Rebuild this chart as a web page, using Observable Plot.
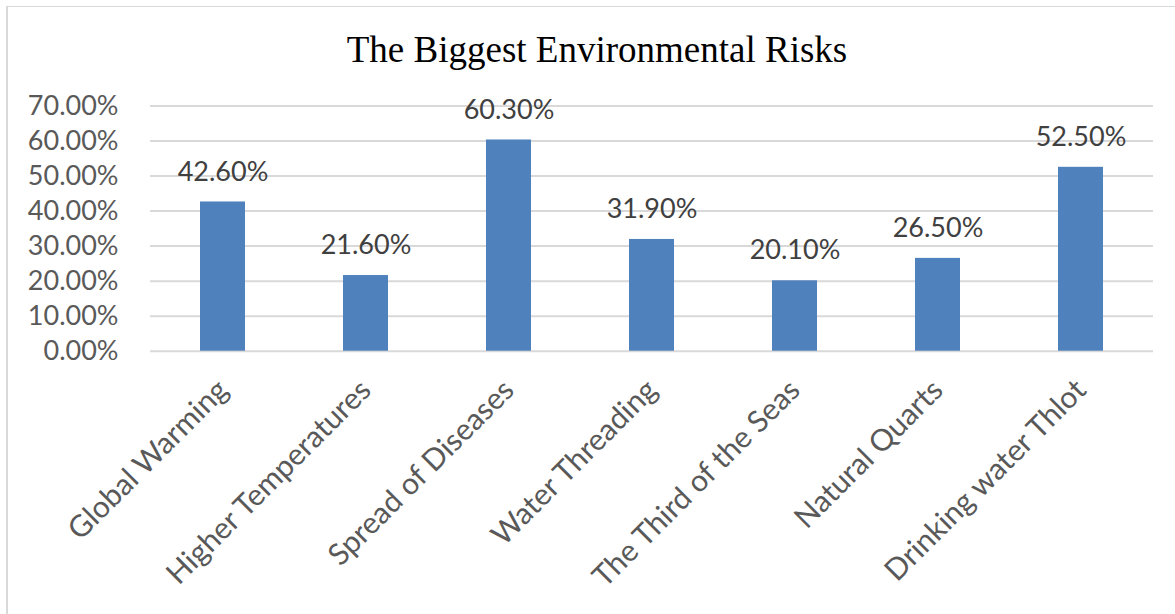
<!DOCTYPE html>
<html>
<head>
<meta charset="utf-8">
<script src="https://cdn.jsdelivr.net/npm/d3@7"></script>
<script src="https://cdn.jsdelivr.net/npm/@observablehq/plot@0.6"></script>
<style>
  html, body { margin: 0; padding: 0; background: #fff; overflow: hidden; }
  #frame { position: relative; width: 1175px; height: 614px; }
  #edge {
    position: absolute; left: 6px; top: 6px; right: -4px; bottom: -4px;
    border-top: 1px solid #d9d9d9; border-left: 2px solid #d9d9d9;
  }
  #title {
    box-sizing: border-box; width: 1175px; height: 80px;
    padding-top: 31px; padding-left: 19px; text-align: center;
    font-family: "Liberation Serif", "Times New Roman", serif;
    font-size: 37px; line-height: 37px; color: #000;
  }
  #chart { position: relative; }
</style>
</head>
<body>
<div id="frame">
  <div id="edge"></div>
  <div id="title">The Biggest Environmental Risks</div>
  <div id="chart"></div>
</div>
<script>
// Survey categories and the share of respondents naming each one (%)
const categories = [
  "Global Warming",
  "Higher Temperatures",
  "Spread of Diseases",
  "Water Threading",
  "The Third of the Seas",
  "Natural Quarts",
  "Drinking water Thlot"
];
const shares = [42.6, 21.6, 60.3, 31.9, 20.1, 26.5, 52.5];
const yTicks = [0, 10, 20, 30, 40, 50, 60, 70];

const rows = categories.map((c, i) => ({category: c, share: shares[i]}));
const pct = v => v.toFixed(2) + "%";

const chart = Plot.plot({
  width: 1175,
  height: 534,
  marginTop: 25.5,
  marginBottom: 263.3,
  marginLeft: 150,
  marginRight: 22,
  style: {
    fontFamily: "Lato, 'Open Sans', sans-serif",
    fontSize: "27px",
    color: "#595959",
    background: "transparent"
  },
  x: {
    domain: categories,
    paddingInner: 0.686,
    paddingOuter: 0.343
  },
  y: {
    domain: [0, 70],
    ticks: yTicks,
    tickFormat: pct,
    label: null,
    tickSize: 0,
    tickPadding: 32
  },
  marks: [
    Plot.gridY(yTicks, {stroke: "#d9d9d9", strokeOpacity: 1, strokeWidth: 2}),
    Plot.barY(rows, {x: "category", y: "share", fill: "#4f81bd"}),
    Plot.text(rows, {
      x: "category",
      y: "share",
      text: d => pct(d.share),
      dy: -30,
      fill: "#404040",
      fontSize: 27
    }),
    // rotated category names under each bar
    Plot.axisX({
      label: null,
      tickSize: 0,
      tickPadding: 34,
      tickRotate: -45,
      fontSize: 30
    })
  ]
});

document.getElementById("chart").appendChild(chart);
</script>
</body>
</html>
